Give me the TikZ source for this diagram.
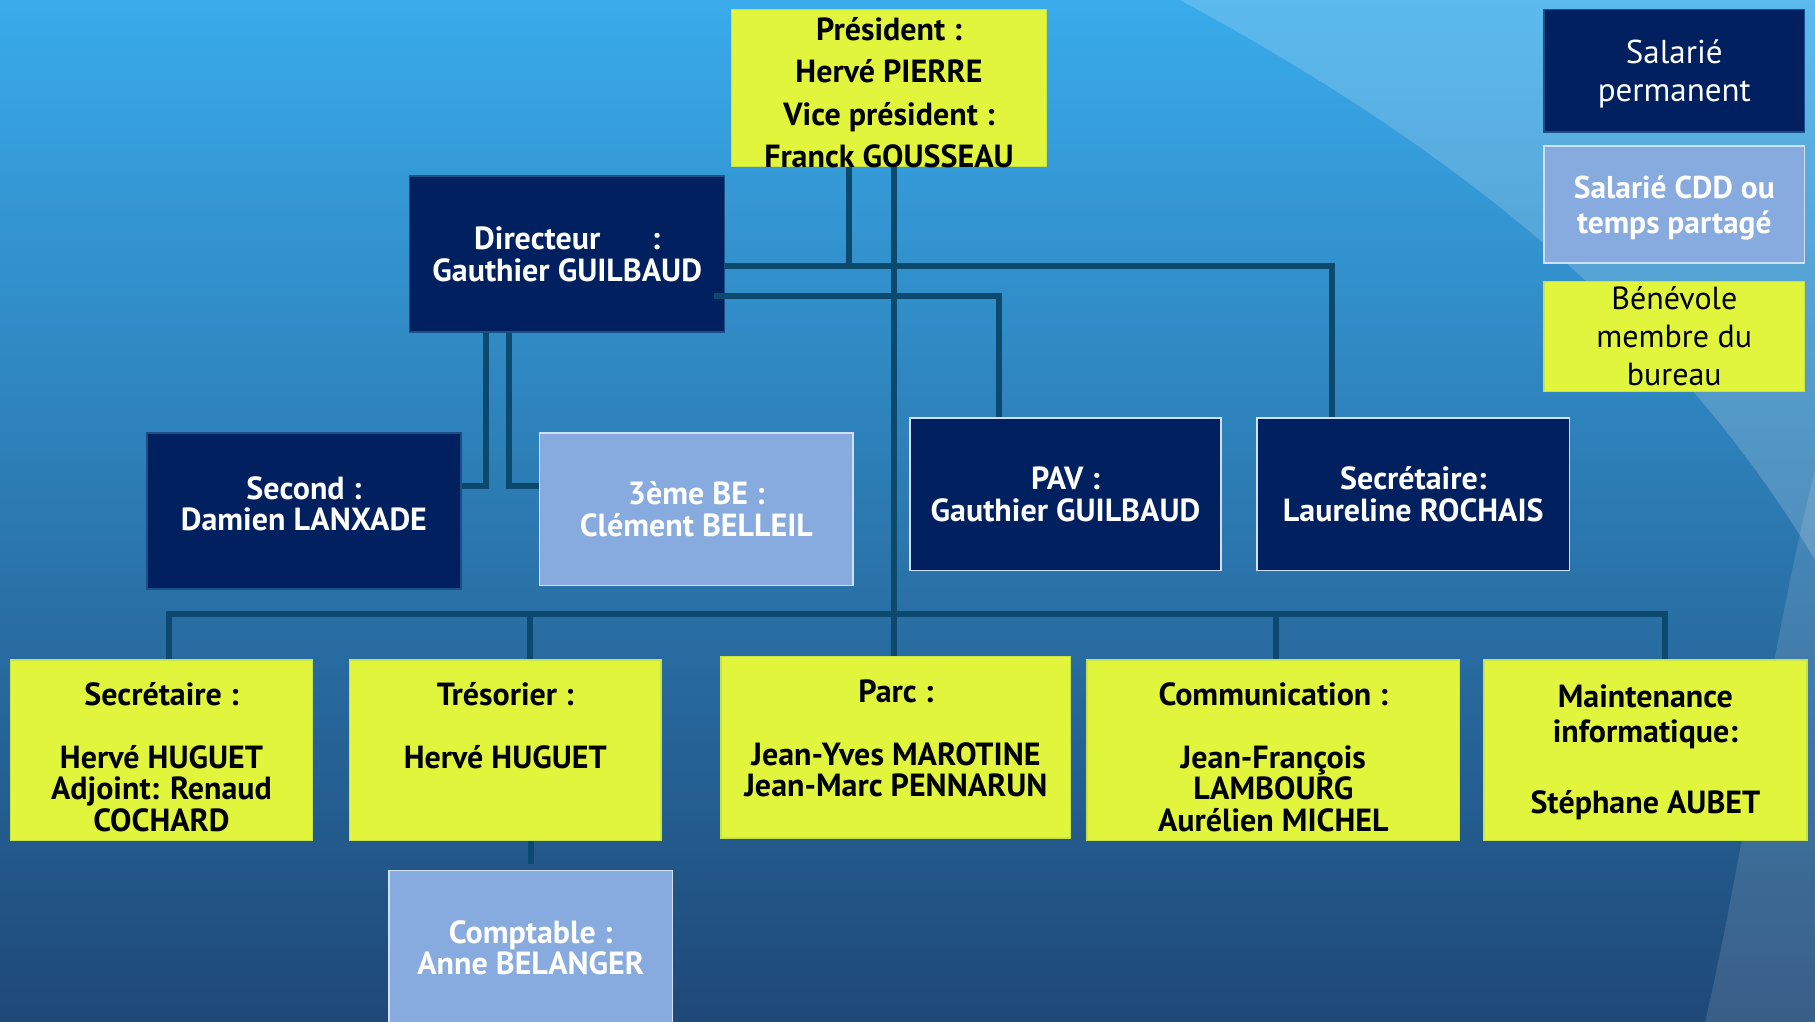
\documentclass[tikz,border=0pt]{standalone}
\usepackage{fontspec}
\setmainfont{PT Sans}
\usetikzlibrary{calc}
\definecolor{navy}{HTML}{00205F}
\definecolor{navyedge}{HTML}{1B4F86}
\definecolor{lightb}{HTML}{88ABDF}
\definecolor{lightedge}{HTML}{D2E0F5}
\definecolor{yel}{HTML}{E0F53C}
\definecolor{yeledge}{HTML}{C8E24A}
\definecolor{connc}{HTML}{0B4A6E}
\definecolor{bgtop}{HTML}{39ABEB}
\definecolor{bgmid}{HTML}{2D7DBB}
\definecolor{bgbot}{HTML}{1E4877}
\begin{document}
\begin{tikzpicture}[x=1pt,y=-1pt,
  box/.style={draw, line width=1.5pt, inner sep=0pt, align=center,
    font=\bfseries\fontsize{32}{31.5}\selectfont},
  navybox/.style={box, fill=navy, draw=navyedge, text=white},
  navyboxw/.style={box, fill=navy, draw=lightedge, text=white},
  lightbox/.style={box, fill=lightb, draw=lightedge, text=white},
  yelbox/.style={box, fill=yel, draw=yeledge, text=black},
  txt/.style={align=center, inner sep=0pt, font=\bfseries\fontsize{32}{31.5}\selectfont},
  txtk/.style={txt, text=black},
  txtw/.style={txt, text=white},
  conn/.style={draw=connc, line width=6pt, line join=miter}]
\useasboundingbox (0,0) rectangle (1815,1022);
\clip (0,0) rectangle (1815,1022);
% background
\shade[top color=bgtop, middle color=bgmid, bottom color=bgbot] (0,0) rectangle (1815,1022);
\fill[white, opacity=0.18] (1180,0) .. controls (1420,130) and (1660,300) .. (1815,560) -- (1815,0) -- cycle;
\fill[white, opacity=0.12] (1815,470) .. controls (1770,650) and (1745,850) .. (1705,1022) -- (1815,1022) -- cycle;

% nodes
\node[yelbox, minimum width=315, minimum height=157,
  label={[txtk, name=presT, yshift=-4.5pt, font=\bfseries\fontsize{32}{42.5}\selectfont]center:{Président :\\Hervé PIERRE\\Vice président :\\Franck GOUSSEAU}}]
  (pres) at (889,88) {};
\node[navybox, minimum width=315, minimum height=156] (dir) at (567.2,254.1)
  {Directeur\hspace{1.6em}:\\Gauthier GUILBAUD};
\node[navybox, minimum width=313.7, minimum height=156.3,
  label={[txtw, name=secondT, yshift=7pt]center:{Second :\\Damien LANXADE}}]
  (second) at (303.9,511) {};
\node[lightbox, minimum width=313.7, minimum height=152.8] (be) at (696.3,509.3)
  {3ème BE :\\Clément BELLEIL};
\node[navyboxw, minimum width=311.4, minimum height=152.8] (pav) at (1065.5,494.3)
  {PAV :\\Gauthier GUILBAUD};
\node[navyboxw, minimum width=312.6, minimum height=152.8] (sec2) at (1413.3,494.3)
  {Secrétaire:\\Laureline ROCHAIS};

% legend
\node[navybox, minimum width=260.4, minimum height=122.7,
  label={[txtw, name=leg1T, yshift=-3.5pt, font=\fontsize{33}{38}\selectfont]center:{Salarié\\permanent}}]
  (leg1) at (1674.3,70.7) {};
\node[lightbox, minimum width=260.4, minimum height=117,
  label={[txtw, name=leg2T, yshift=-3.5pt, font=\bfseries\fontsize{31.5}{35}\selectfont]center:{Salarié CDD ou\\temps partagé}}]
  (leg2) at (1674.3,204.3) {};
\node[yelbox, minimum width=260.4, minimum height=110,
  font=\fontsize{32}{38}\selectfont] (leg3) at (1674.3,336.3)
  {Bénévole\\membre du\\bureau};

% bottom row
\node[yelbox, minimum width=302, minimum height=180.6,
  label={[txtk, name=secT, yshift=-7pt]center:{Secrétaire :\\~\\Hervé HUGUET\\Adjoint: Renaud\\COCHARD}}]
  (sec) at (161.5,750.1) {};
\node[yelbox, minimum width=311.3, minimum height=180.6,
  label={[txtk, name=tresT, yshift=-7pt]center:{Trésorier :\\~\\Hervé HUGUET\\~\\~}}]
  (tres) at (505.3,750.1) {};
\node[yelbox, minimum width=349.6, minimum height=181.7,
  label={[txtk, name=parcT, yshift=9pt]center:{Parc :\\~\\Jean-Yves MAROTINE\\Jean-Marc PENNARUN}}]
  (parc) at (895.9,747.2) {};
\node[yelbox, minimum width=372.7, minimum height=180.6,
  label={[txtk, name=commT, yshift=-7pt]center:{Communication :\\~\\Jean-François\\LAMBOURG\\Aurélien MICHEL}}]
  (comm) at (1273.3,750.1) {};
\node[yelbox, minimum width=323, minimum height=180.6,
  label={[txtk, name=maintT, yshift=-2pt, font=\bfseries\fontsize{32}{35.5}\selectfont]center:{Maintenance\\informatique:\\~\\Stéphane AUBET}}]
  (maint) at (1645.4,750.1) {};
\node[lightbox, minimum width=283.6, minimum height=154.6] (comp) at (530.7,947.7)
  {Comptable :\\Anne BELANGER};

% connector coordinates
\coordinate (jA) at (848.5,266.2);
\coordinate (cS) at (1332.3,266.2);
\coordinate (cP) at (999,296.3);
\coordinate (dIn) at ([xshift=-11pt]dir.east);
\coordinate (xB) at (893.6,0);
\coordinate (cL) at (486.2,486.2);
\coordinate (cR) at (509.3,486.2);
\coordinate (bL) at (169,613.5);
\coordinate (bR) at (1664.5,613.5);
\coordinate (xT) at (530.1,0);
\coordinate (xC) at (1275.6,0);
\coordinate (xc) at (531.3,0);

% connectors
\draw[conn] (pres.south -| jA) -- (jA);
\draw[conn] (dir.east |- cS) -- (cS) -- (sec2.north -| cS);
\draw[conn] (dIn |- cP) -- (cP) -- (pav.north -| cP);
\draw[conn] (pres.south -| xB) -- (parc.north -| xB);
\draw[conn] (dir.south -| cL) -- (cL) -- (second.east |- cL);
\draw[conn] (dir.south -| cR) -- (cR) -- (be.west |- cR);
\draw[conn] (sec.north -| bL) -- (bL) -- (bR) -- (maint.north -| bR);
\draw[conn] (xT |- bL) -- (tres.north -| xT);
\draw[conn] (xC |- bL) -- (comm.north -| xC);
\draw[conn, shorten >=6pt] (tres.south -| xc) -- (comp.north -| xc);
\end{tikzpicture}
\end{document}
